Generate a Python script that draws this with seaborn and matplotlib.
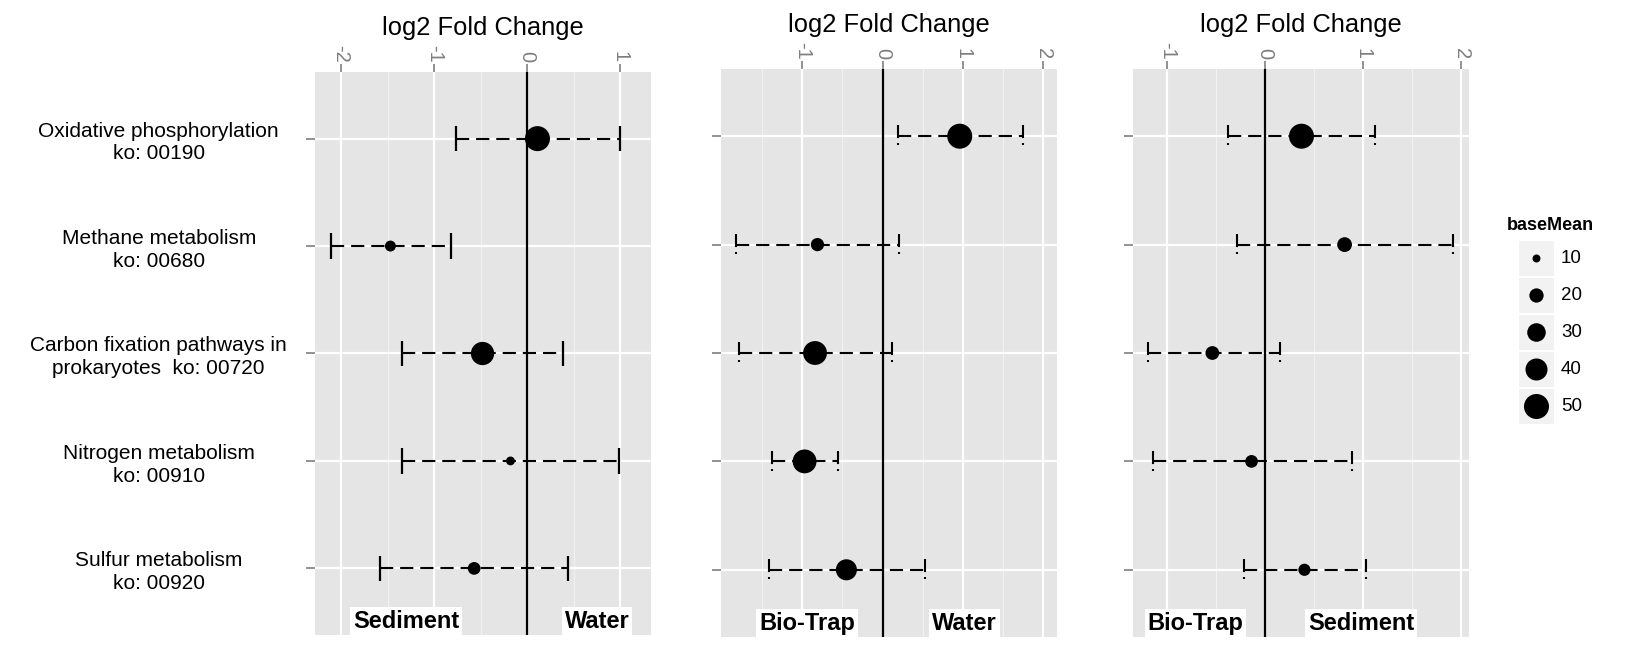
import matplotlib
matplotlib.use("Agg")
import matplotlib.pyplot as plt
import matplotlib.transforms as mtransforms
from matplotlib.patches import Rectangle
import numpy as np
import seaborn as sns

# ---------------- data ----------------
categories = [
    "Oxidative phosphorylation\nko: 00190",
    "Methane metabolism\nko: 00680",
    "Carbon fixation pathways in\nprokaryotes  ko: 00720",
    "Nitrogen metabolism\nko: 00910",
    "Sulfur metabolism\nko: 00920",
]

# Panel 1: Sediment vs Water
lfc1 = [0.11, -1.47, -0.48, -0.18, -0.57]
lo1 = [-0.76, -2.11, -1.34, -1.34, -1.58]
hi1 = [1.00, -0.82, 0.38, 0.99, 0.44]
bm1 = [50, 14, 44, 11, 17]

# Panel 2: Bio-Trap vs Water
lfc2 = [0.96, -0.81, -0.84, -0.97, -0.45]
lo2 = [0.19, -1.82, -1.79, -1.38, -1.41]
hi2 = [1.75, 0.20, 0.12, -0.56, 0.53]
bm2 = [50, 18, 46, 46, 37]

# Panel 3: Bio-Trap vs Sediment
lfc3 = [0.37, 0.81, -0.54, -0.14, 0.40]
lo3 = [-0.38, -0.29, -1.20, -1.15, -0.22]
hi3 = [1.12, 1.92, 0.15, 0.89, 1.03]
bm3 = [50, 21, 19, 17, 16]

ticks1 = [-2, -1, 0, 1]
ticks2 = [-1, 0, 1, 2]
ticks3 = [-1, 0, 1, 2]

groups1 = ["Sediment", "Water"]
groups2 = ["Bio-Trap", "Water"]
groups3 = ["Bio-Trap", "Sediment"]

legend_values = [10, 20, 30, 40, 50]
legend_title = "baseMean"
xlabel = "log2 Fold Change"

# ---------------- style ----------------
sns.set_style("white")
plt.rcParams["font.family"] = ["Liberation Sans", "DejaVu Sans"]
plt.rcParams["axes.unicode_minus"] = False
plt.rcParams["lines.scale_dashes"] = False

W, H = 1627, 647
fig = plt.figure(figsize=(W / 100, H / 100), dpi=100)
fig.patch.set_facecolor("white")


def box(l, t, r, b):
    return [l / W, 1 - b / H, (r - l) / W, (b - t) / H]


SIZES = (33, 324)
SIZE_NORM = (10, 50)
ypos = np.arange(len(categories))

panels = [
    dict(rect=box(315, 72, 651, 635), lfc=lfc1, lo=lo1, hi=hi1, bm=bm1,
         xlim=(-2.28, 1.33), ticks=ticks1, groups=groups1, gx=(-1.30, 0.75),
         solid_caps=True, ylabels=True),
    dict(rect=box(721, 69, 1057, 637), lfc=lfc2, lo=lo2, hi=hi2, bm=bm2,
         xlim=(-2.01, 2.17), ticks=ticks2, groups=groups2, gx=(-0.94, 1.02),
         solid_caps=False, ylabels=False),
    dict(rect=box(1133, 69, 1469, 637), lfc=lfc3, lo=lo3, hi=hi3, bm=bm3,
         xlim=(-1.35, 2.08), ticks=ticks3, groups=groups3, gx=(-0.71, 0.98),
         solid_caps=False, ylabels=False),
]

for p in panels:
    ax = fig.add_axes(p["rect"])
    ax.set_facecolor("#E5E5E5")
    for s in ax.spines.values():
        s.set_visible(False)

    # errorbars (dashed)
    ax.hlines(ypos, p["lo"], p["hi"], colors="black", linewidth=1.5,
              linestyles=(0, (9.5, 5)), zorder=3)
    if p["solid_caps"]:
        ax.vlines(p["lo"], ypos - 0.117, ypos + 0.117, colors="black", linewidth=1.6, zorder=3)
        ax.vlines(p["hi"], ypos - 0.117, ypos + 0.117, colors="black", linewidth=1.6, zorder=3)
    else:
        ax.vlines(p["lo"], ypos - 0.1, ypos + 0.095, colors="black", linewidth=1.5,
                  linestyles=(0, (9.4, 3.6, 1.4, 10)), zorder=3)
        ax.vlines(p["hi"], ypos - 0.1, ypos + 0.095, colors="black", linewidth=1.5,
                  linestyles=(0, (9.4, 3.6, 1.4, 10)), zorder=3)

    ax.axvline(0, color="black", linewidth=1.6, zorder=2.5)

    sns.scatterplot(x=p["lfc"], y=ypos, size=p["bm"], sizes=SIZES, size_norm=SIZE_NORM,
                    color="black", linewidth=0, legend=False, ax=ax, zorder=4)

    ax.set_xlim(*p["xlim"])
    ax.set_ylim(len(categories) - 1 + 0.62, -0.62)

    # grid
    t = p["ticks"]
    minor = [v + 0.5 for v in range(int(np.floor(p["xlim"][0])) - 1, int(np.ceil(p["xlim"][1])) + 1)
             if p["xlim"][0] < v + 0.5 < p["xlim"][1]]
    ax.set_xticks(minor, minor=True)
    ax.grid(which="major", color="white", linewidth=1.6, zorder=0)
    ax.grid(which="minor", axis="x", color="#F2F2F2", linewidth=0.8, zorder=0)
    ax.set_axisbelow(True)

    ax.xaxis.tick_top()
    ax.xaxis.set_label_position("top")
    ax.set_xticks(t, labels=[str(v) for v in t])
    ax.tick_params(axis="x", which="major", top=True, bottom=False, length=6,
                   width=1.2, color="#7F7F7F", labelcolor="#7F7F7F", labelsize=14.5,
                   labelrotation=270, pad=1)
    ax.tick_params(axis="x", which="minor", length=0)
    ax.set_xlabel(xlabel, fontsize=18.4, labelpad=7, color="black")
    ax.set_ylabel("")

    ax.set_yticks(ypos)
    if p["ylabels"]:
        ax.set_yticklabels(categories)
        for lab in ax.get_yticklabels():
            lab.set_horizontalalignment("center")
            lab.set_multialignment("center")
            lab.set_linespacing(1.25)
        ax.tick_params(axis="y", pad=106, labelsize=15, labelcolor="black")
    else:
        ax.set_yticklabels([""] * len(categories))
    ax.tick_params(axis="y", left=True, length=6.5, width=1.2, color="#7F7F7F")

    trans = mtransforms.blended_transform_factory(ax.transData, ax.transAxes)
    for g, gx in zip(p["groups"], p["gx"]):
        ax.text(gx, 0.024, g, transform=trans, ha="center", va="center",
                fontsize=17, fontweight="bold", color="black", zorder=6,
                bbox=dict(facecolor="white", edgecolor="none", pad=2))

# ---------------- legend ----------------
lax = fig.add_axes(box(1519, 241, 1554, 426))
kh = 35 / 37
for i in range(len(legend_values)):
    lax.add_patch(Rectangle((0, i), 1, kh, facecolor="#F2F2F2", edgecolor="none", zorder=0))
lpos = np.arange(len(legend_values)) + kh / 2
sns.scatterplot(x=[0.5] * len(legend_values), y=lpos, size=legend_values, sizes=SIZES,
                size_norm=SIZE_NORM, color="black", linewidth=0, legend=False, ax=lax, zorder=3)
lax.set_xlim(0, 1)
lax.set_ylim(len(legend_values), 0)
lax.axis("off")
for v, yy in zip(legend_values, lpos):
    lax.text(1.2, yy, str(v), ha="left", va="center", fontsize=13.5, color="black")
lax.text(-0.34, -0.43, legend_title, ha="left", va="center", fontsize=13,
         fontweight="bold", color="black")

fig.savefig("out.png", dpi=100, facecolor="white")
